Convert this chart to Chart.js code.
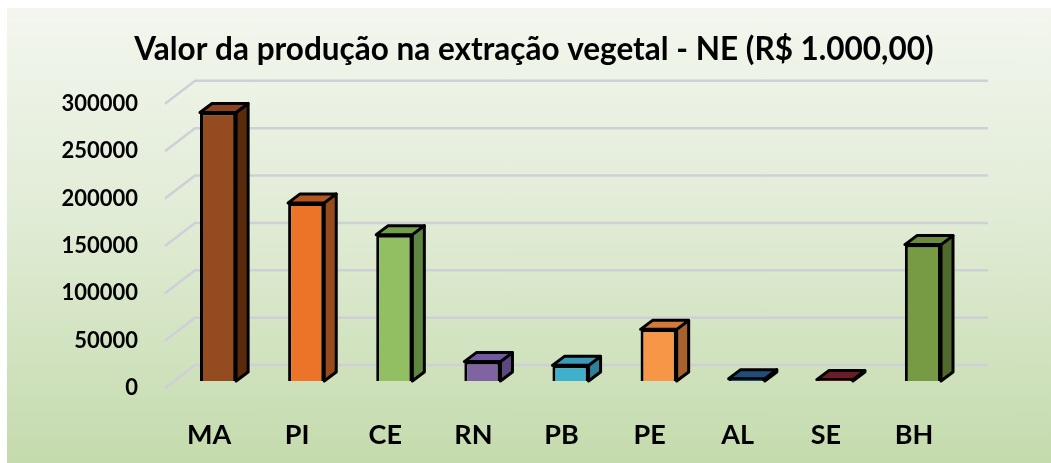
<!DOCTYPE html>
<html>
<head>
<meta charset="utf-8">
<script src="https://cdn.jsdelivr.net/npm/chart.js@4"></script>
<style>
  html, body { margin: 0; padding: 0; background: #ffffff; }
  #box {
    position: absolute; left: 7px; top: 8px; width: 1044px; height: 455px;
    background: linear-gradient(to bottom, #f3f6ee 0%, #e1ecd6 45%, #c4dbad 100%);
  }
</style>
</head>
<body>
<div id="box"><canvas id="barChart"></canvas></div>
<script>
'use strict'

// Data
var states = ['MA', 'PI', 'CE', 'RN', 'PB', 'PE', 'AL', 'SE', 'BH'];
var values = [283500, 188000, 154500, 20500, 16500, 54500, 2500, 1500, 144000];
var yTicks = [0, 50000, 100000, 150000, 200000, 250000, 300000];

// Face colours for each bar: front, top, side
var frontColors = ['#934b1f', '#ec7428', '#92bf62', '#8064a2', '#3fb0cc', '#f79646', '#1f4e79', '#7a1f2b', '#779a45'];
var topColors   = ['#8a4520', '#b5561f', '#72a04a', '#7158a0', '#3a9ab8', '#d27b38', '#1f4f78', '#6b1c24', '#6a8c3e'];
var sideColors  = ['#5a2a0d', '#974a1c', '#5f8640', '#5c4880', '#2e7f98', '#a8622e', '#173a5a', '#55161d', '#4f6a2c'];

var depthX = 12, depthY = 9;

// Perspective gridlines (back wall + slanted floor edge)
var gridPlugin = {
  id: 'grid3d',
  beforeDatasetsDraw: function(chart) {
    var ctx = chart.ctx;
    var y = chart.scales.y;
    var area = chart.chartArea;
    ctx.save();
    ctx.strokeStyle = '#cfcfd8';
    ctx.lineWidth = 2.5;
    yTicks.forEach(function(v) {
      var py = y.getPixelForValue(v);
      ctx.beginPath();
      ctx.moveTo(area.left - 9, py + 7);
      ctx.lineTo(area.left + 21, py - 16);
      ctx.lineTo(area.right + 21, py - 16);
      ctx.stroke();
    });
    ctx.restore();
  }
};

// Top and side faces of each bar
var boxPlugin = {
  id: 'box3d',
  beforeDatasetsDraw: function(chart) {
    var ctx = chart.ctx;
    var meta = chart.getDatasetMeta(0);
    ctx.save();
    ctx.strokeStyle = '#000';
    ctx.lineWidth = 3;
    ctx.lineJoin = 'round';
    meta.data.forEach(function(bar, i) {
      var l = bar.x - bar.width / 2, r = bar.x + bar.width / 2;
      var t = bar.y, b = bar.base;
      // side
      ctx.beginPath();
      ctx.moveTo(r, t);
      ctx.lineTo(r + depthX, t - depthY);
      ctx.lineTo(r + depthX, b - depthY);
      ctx.lineTo(r, b);
      ctx.closePath();
      ctx.fillStyle = sideColors[i];
      ctx.fill();
      ctx.stroke();
      // top
      ctx.beginPath();
      ctx.moveTo(l, t);
      ctx.lineTo(l + depthX, t - depthY);
      ctx.lineTo(r + depthX, t - depthY);
      ctx.lineTo(r, t);
      ctx.closePath();
      ctx.fillStyle = topColors[i];
      ctx.fill();
      ctx.stroke();
    });
    ctx.restore();
  }
};

var chart = new Chart(document.getElementById('barChart'), {
  type: 'bar',
  data: {
    labels: states,
    datasets: [{
      data: values,
      backgroundColor: frontColors,
      borderColor: '#000',
      borderWidth: 3,
      barPercentage: 0.41,
      categoryPercentage: 1
    }]
  },
  options: {
    responsive: true,
    maintainAspectRatio: false,
    animation: false,
    layout: { padding: { left: 10, right: 0, top: 0, bottom: 0 } },
    plugins: {
      legend: { display: false },
      tooltip: { enabled: false },
      title: {
        display: true,
        text: 'Valor da produção na extração vegetal - NE (R$ 1.000,00)',
        color: '#000',
        font: { family: 'Lato', size: 31.5, weight: 'bold' },
        padding: { top: 23, bottom: 28 }
      }
    },
    scales: {
      x: {
        grid: { display: false, drawTicks: false },
        border: { display: false },
        ticks: {
          color: '#000',
          font: { family: 'Lato', size: 27, weight: 'bold' },
          padding: 38,
          labelOffset: -9
        },
        afterFit: function(scale) { scale.height = 82; }
      },
      y: {
        min: 0,
        max: 300000,
        grid: { display: false, drawTicks: false },
        border: { display: false },
        ticks: {
          stepSize: 50000,
          color: '#000',
          font: { family: 'Lato', size: 22, weight: 'bold' },
          padding: 36,
          labelOffset: 7,
          callback: function(v) { return String(v); }
        },
        afterFit: function(scale) { scale.width = 157; }
      },
      // empty right-hand space kept for the back wall depth
      yRight: {
        position: 'right',
        grid: { display: false, drawTicks: false },
        border: { display: false },
        ticks: { display: false },
        afterFit: function(scale) { scale.width = 84; }
      }
    }
  },
  plugins: [gridPlugin, boxPlugin]
});
</script>
</body>
</html>
